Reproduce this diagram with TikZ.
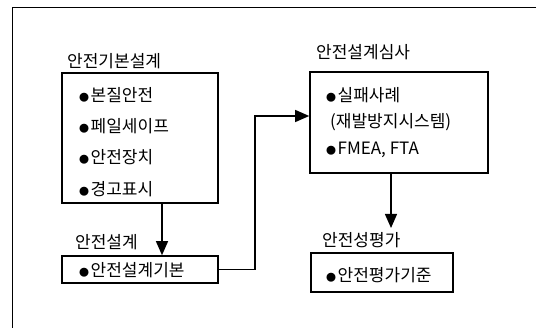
\documentclass[tikz,border=0pt]{standalone}
\usepackage{fontspec}
\setmainfont{Noto Sans CJK KR}
\usetikzlibrary{arrows.meta}
\tikzset{
  box/.style={draw, line width=1.6pt, minimum width=#1, inner sep=0pt},
  lbl/.style={anchor=west, inner sep=0pt, font=\fontsize{17}{19}\selectfont},
  item/.style={anchor=west, inner sep=0pt, font=\fontsize{17}{19}\selectfont},
  conn/.style={line width=1.3pt, -{Triangle[length=14pt,width=12pt]}},
  frame/.style={line width=0.6pt}
}
\newcommand{\bul}{{\fontsize{10}{10}\selectfont ●}\hspace{1.5pt}}
\begin{document}
\begin{tikzpicture}[x=1pt,y=-1pt]
\useasboundingbox (0,0) rectangle (538,328);
% outer frame (top and left only)
\coordinate (ftl) at (12,7);
\coordinate (ftr) at (536,7);
\coordinate (fbl) at (12,328);
\draw[frame] (ftr) -- (ftl) -- (fbl);
% boxes
\node[box=156pt, minimum height=130pt] (b1) at (140,138) {};
\node[box=156pt, minimum height=27pt] (b2) at (140,269.5) {};
\node[box=178pt, minimum height=101pt] (b3) at (399,122.5) {};
\node[box=142pt, minimum height=39pt] (b4) at (382,272.5) {};
% titles
\node[lbl] (t1) at (67,61) {안전기본설계};
\node[lbl] (t2) at (75,242) {안전설계};
\node[lbl] (t3) at (316,52) {안전설계심사};
\node[lbl] (t4) at (322,240) {안전성평가};
% items
\node[item] (i11) at (79,95) {\bul 본질안전};
\node[item] (i12) at (79,126) {\bul 페일세이프};
\node[item] (i13) at (79,157) {\bul 안전장치};
\node[item] (i14) at (79,189) {\bul 경고표시};
\node[item] (i21) at (79,270) {\bul 안전설계기본};
\node[item] (i31) at (326,95) {\bul 실패사례};
\node[item] (i32) at (330,122) {(재발방지시스템)};
\node[item] (i33) at (326,150) {\bul FMEA, FTA};
\node[item] (i41) at (326,275) {\bul 안전평가기준};
% connectors
\coordinate (c1) at (255,116);
\coordinate (a3end) at (391,228);
\draw[conn] (b1.south -| 162,0) -- (b2.north -| 162,0);
\draw[conn] (b2.east) -| (c1) -- (b3.west |- c1);
\draw[conn] (b3.south -| a3end) -- (a3end);
\end{tikzpicture}
\end{document}
